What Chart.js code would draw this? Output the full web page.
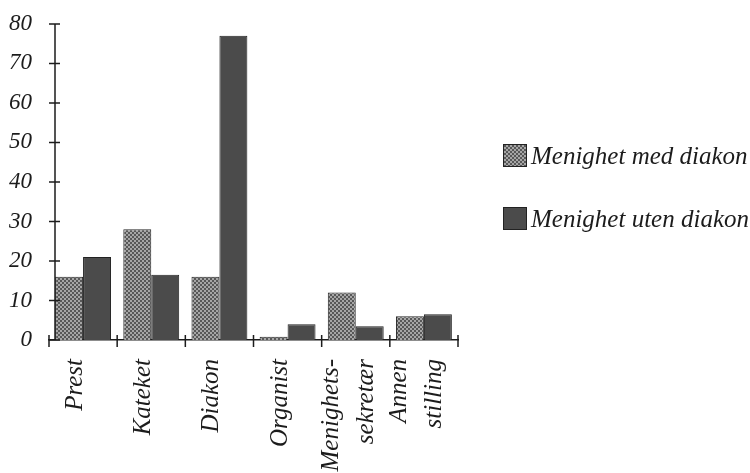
<!DOCTYPE html>
<html>
<head>
<meta charset="utf-8">
<script src="https://cdn.jsdelivr.net/npm/chart.js@4.4.1/dist/chart.umd.min.js"></script>
<style>
  html, body { margin: 0; padding: 0; background: #fff; }
  #wrap { position: relative; width: 750px; height: 473px; }
  #legend { position: absolute; left: 503px; top: 144px; font: italic 25px "Liberation Serif", "Times New Roman", Tinos, serif; color: #1c1c1c; }
  .item { display: flex; align-items: center; height: 23px; margin-bottom: 40px; white-space: nowrap; }
  .sw { width: 24px; height: 23px; border: 1px solid #222; box-sizing: border-box; margin-right: 4px; }
</style>
</head>
<body>
<div id="wrap">
  <canvas id="chart" width="750" height="473"></canvas>
  <div id="legend"></div>
</div>
<script>
const categories = ['Prest', 'Kateket', 'Diakon', 'Organist', ['Menighets-', 'sekretær'], ['Annen', 'stilling']];
const seriesNames = ['Menighet med diakon', 'Menighet uten diakon'];
const medDiakon = [16, 28, 16, 0.8, 12, 6];
const utenDiakon = [21, 16.5, 77, 4, 3.5, 6.5];
const yMax = 80;
const yStep = 10;

const INK = '#1c1c1c';
const FONT = '"Liberation Serif", "Times New Roman", Tinos, serif';

// checkered fill like the scanned hatch
function checker() {
  const c = document.createElement('canvas');
  c.width = 4; c.height = 4;
  const g = c.getContext('2d');
  g.fillStyle = '#a6a6a6'; g.fillRect(0, 0, 4, 4);
  g.fillStyle = '#585858'; g.fillRect(0, 0, 2, 2); g.fillRect(2, 2, 2, 2);
  return c;
}
const patCanvas = checker();
const ctx = document.getElementById('chart').getContext('2d');
const medFill = ctx.createPattern(patCanvas, 'repeat');
const utenFill = '#4b4b4b';

// y axis sits a few px inside the first category, ticks cross both axes
const crossTicks = {
  id: 'crossTicks',
  afterDraw(chart) {
    const { ctx, scales: { x, y } } = chart;
    const ax = x.left + 6;
    ctx.save();
    ctx.strokeStyle = INK;
    ctx.lineWidth = 1.5;
    ctx.beginPath();
    ctx.moveTo(ax, y.getPixelForValue(yMax)); ctx.lineTo(ax, y.getPixelForValue(0));
    y.ticks.forEach((t, i) => {
      const py = y.getPixelForTick(i);
      ctx.moveTo(ax - 6, py); ctx.lineTo(ax + 5, py);
    });
    for (let i = 0; i <= categories.length; i++) {
      const px = x.left + i * x.width / categories.length;
      ctx.moveTo(px, x.top - 5); ctx.lineTo(px, x.top + 7);
    }
    ctx.stroke();
    ctx.restore();
  }
};

const isMulti = c => Array.isArray(categories[c.index]);

new Chart(ctx, {
  type: 'bar',
  data: {
    labels: categories,
    datasets: [
      { label: seriesNames[0], data: medDiakon, backgroundColor: medFill, borderColor: '#2a2a2a', borderWidth: 1 },
      { label: seriesNames[1], data: utenDiakon, backgroundColor: utenFill, borderColor: '#222', borderWidth: 1 },
    ],
  },
  options: {
    responsive: false,
    animation: false,
    categoryPercentage: 0.82,
    barPercentage: 1.0,
    layout: { padding: { left: 0, right: 292, top: 0, bottom: 0 } },
    plugins: { legend: { display: false }, tooltip: { enabled: false } },
    scales: {
      x: {
        grid: { display: false },
        border: { display: true, color: INK, width: 1.5 },
        ticks: {
          color: INK, autoSkip: false, minRotation: 90, maxRotation: 90, padding: 11,
          labelOffset: -24.5,
          showLabelBackdrop: c => !isMulti(c),
          backdropColor: 'rgba(0,0,0,0)',
          backdropPadding: 0,
          font: c => ({ family: FONT, style: 'italic', size: 25, lineHeight: isMulti(c) ? 1.4 : 1.35 }),
        },
        afterFit: s => { s.height = 133; },
      },
      y: {
        min: 0, max: yMax,
        grid: { display: false, drawTicks: false },
        border: { display: false },
        ticks: {
          stepSize: yStep, color: INK, padding: 17,
          font: { family: FONT, style: 'italic', size: 23, lineHeight: 0.6 },
        },
        afterFit: s => { s.width = 49; },
      },
    },
  },
  plugins: [crossTicks],
});

// legend
const legend = document.getElementById('legend');
[medFill, utenFill].forEach((fill, i) => {
  const item = document.createElement('div');
  item.className = 'item';
  const sw = document.createElement('span');
  sw.className = 'sw';
  sw.style.background = i === 0 ? 'url(' + patCanvas.toDataURL() + ')' : utenFill;
  const txt = document.createElement('span');
  txt.textContent = seriesNames[i];
  item.appendChild(sw); item.appendChild(txt);
  legend.appendChild(item);
});
</script>
</body>
</html>
